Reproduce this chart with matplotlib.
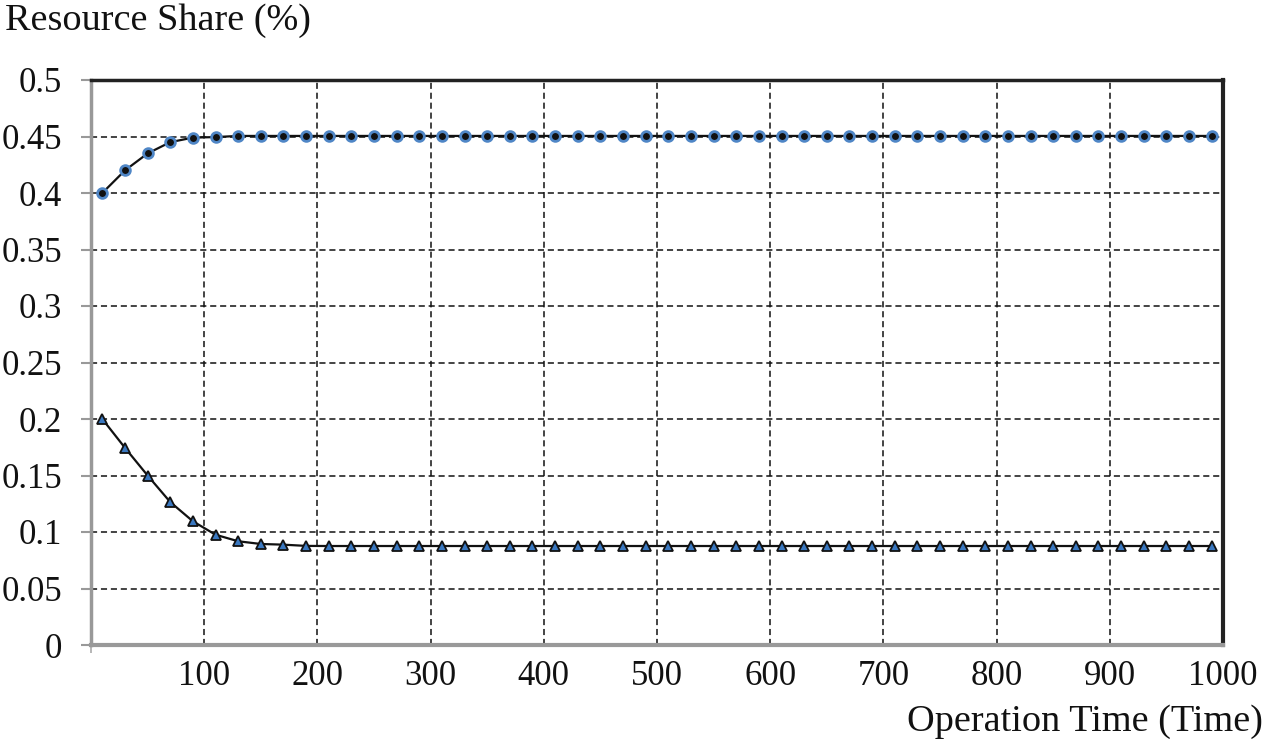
import matplotlib
matplotlib.use("Agg")
import matplotlib.pyplot as plt
import numpy as np

plt.rcParams['font.family'] = ['Liberation Serif', 'DejaVu Serif']

time = list(range(10, 1000, 20))
share_a = [0.400, 0.420, 0.435, 0.445, 0.449, 0.4495, 0.4505] + [0.4505] * (len(time) - 7)
share_b = [0.200, 0.1745, 0.150, 0.1265, 0.1095, 0.0976, 0.0918, 0.0894, 0.0888, 0.0877] + [0.0876] * (len(time) - 10)

x_ticks = [100, 200, 300, 400, 500, 600, 700, 800, 900, 1000]
x_minor = [0, 200, 400, 600, 800, 1000]
y_ticks = [0, 0.05, 0.1, 0.15, 0.2, 0.25, 0.3, 0.35, 0.4, 0.45, 0.5]
y_labels = ['0', '0.05', '0.1', '0.15', '0.2', '0.25', '0.3', '0.35', '0.4', '0.45', '0.5']

fig = plt.figure(figsize=(12.64, 7.44), dpi=100)
ax = fig.add_axes([91/1264, 1-645/744, (1223-91)/1264, (645-80)/744])

ax.set_xlim(0, 1000)
ax.set_ylim(0, 0.5)

for v in x_ticks[:-1]:
    ax.axvline(v, color='#111111', lw=1.1, ls=(0, (4, 2.5)), zorder=1)
for v in y_ticks[:-1]:
    ax.axhline(v, color='#111111', lw=1.1, ls=(0, (4, 2.5)), zorder=1)

ax.plot(time, share_a, color='#111111', lw=1.6, marker='o', markersize=7,
        markerfacecolor='#111111', markeredgecolor='#4f86c6', markeredgewidth=2.0, zorder=3, clip_on=False)
ax.plot(time, share_b, color='#111111', lw=1.6, marker='^', markersize=7,
        markerfacecolor='#3a78c0', markeredgecolor='#111111', markeredgewidth=1.3, zorder=3, clip_on=False)

ax.set_xticks(x_ticks)
ax.set_xticklabels([str(v) for v in x_ticks])
ax.set_xticks(x_minor, minor=True)
ax.set_yticks(y_ticks)
ax.set_yticklabels(y_labels)

ax.tick_params(axis='y', length=7.2, width=1.5, color='#999999', labelsize=25, pad=13.5)
ax.tick_params(axis='x', which='major', length=0, labelsize=25, pad=11)
ax.tick_params(axis='x', which='minor', length=6, width=1.2, color='#aaaaaa')

ax.spines['top'].set_color('#222222')
ax.spines['top'].set_linewidth(2.5)
ax.spines['right'].set_color('#222222')
ax.spines['right'].set_linewidth(3)
ax.spines['left'].set_color('#999999')
ax.spines['left'].set_linewidth(2.5)
ax.spines['bottom'].set_color('#999999')
ax.spines['bottom'].set_linewidth(3)

fig.text(5/1264, 1-30/744, 'Resource Share (%)', fontsize=27.5, ha='left', va='baseline', color='#111111')
fig.text(1263/1264, 1-731/744, 'Operation Time (Time)', fontsize=27.5, ha='right', va='baseline', color='#111111')

for lab in ax.get_xticklabels() + ax.get_yticklabels():
    lab.set_color('#111111')

fig.savefig('out.png', dpi=100)
